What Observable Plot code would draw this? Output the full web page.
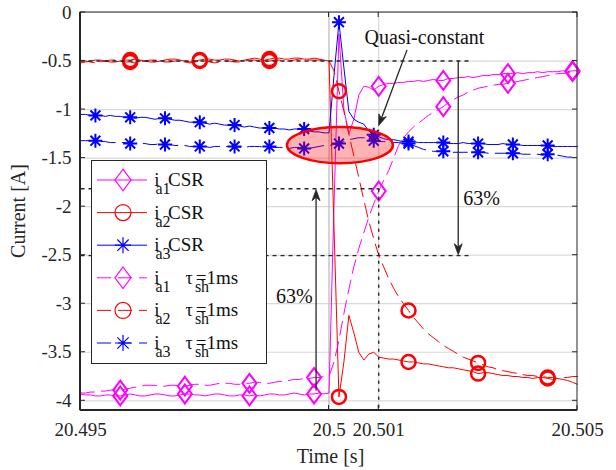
<!DOCTYPE html>
<html><head><meta charset="utf-8">
<script src="https://cdn.jsdelivr.net/npm/d3@7"></script>
<script src="https://cdn.jsdelivr.net/npm/@observablehq/plot@0.6"></script>
<style>body{margin:0;background:#fff}</style>
</head><body><div id="chart"></div>
<script>
// sampling of the recorded currents
const tStart = 20.495, tStep = 0.0001;

const ia1CSR = [
-3.93,-3.94,-3.94,-3.95,-3.95,-3.94,-3.94,-3.95,-3.95,-3.94,
-3.93,-3.94,-3.95,-3.95,-3.94,-3.93,-3.93,-3.94,-3.95,-3.95,
-3.94,-3.93,-3.93,-3.94,-3.94,-3.95,-3.94,-3.93,-3.93,-3.94,
-3.95,-3.95,-3.94,-3.94,-3.95,-3.94,-3.95,-3.94,-3.93,-3.93,
-3.94,-3.94,-3.93,-3.92,-3.93,-3.94,-3.93,-3.93,-3.92,-3.93,
-3.92,-2.00,-0.22,-1.00,-1.25,-1.10,-0.85,-0.76,-0.77,-0.80,
-0.76,-0.74,-0.73,-0.73,-0.72,-0.72,-0.71,-0.71,-0.70,-0.71,
-0.70,-0.69,-0.70,-0.70,-0.68,-0.68,-0.67,-0.67,-0.66,-0.67,
-0.66,-0.65,-0.65,-0.64,-0.64,-0.63,-0.63,-0.63,-0.62,-0.63,
-0.62,-0.62,-0.61,-0.62,-0.61,-0.61,-0.61,-0.60,-0.61,-0.60,-0.60];

const ia2CSR = [
-0.52,-0.51,-0.50,-0.49,-0.49,-0.50,-0.51,-0.51,-0.50,-0.49,
-0.49,-0.48,-0.49,-0.50,-0.51,-0.51,-0.50,-0.49,-0.48,-0.48,
-0.49,-0.50,-0.51,-0.50,-0.49,-0.48,-0.48,-0.49,-0.49,-0.48,
-0.48,-0.49,-0.50,-0.49,-0.48,-0.47,-0.48,-0.49,-0.48,-0.47,
-0.47,-0.48,-0.48,-0.47,-0.47,-0.48,-0.48,-0.47,-0.48,-0.49,
-0.50,-2.20,-3.96,-3.60,-3.12,-3.30,-3.50,-3.58,-3.52,-3.50,
-3.55,-3.56,-3.57,-3.57,-3.58,-3.59,-3.60,-3.60,-3.61,-3.62,
-3.62,-3.63,-3.64,-3.65,-3.66,-3.66,-3.67,-3.68,-3.69,-3.70,
-3.72,-3.71,-3.71,-3.72,-3.73,-3.74,-3.74,-3.75,-3.75,-3.76,
-3.76,-3.77,-3.76,-3.76,-3.77,-3.78,-3.77,-3.78,-3.79,-3.81,-3.83];

const ia3CSR = [
-1.05,-1.05,-1.06,-1.06,-1.06,-1.07,-1.06,-1.07,-1.07,-1.08,
-1.08,-1.09,-1.08,-1.08,-1.09,-1.10,-1.09,-1.09,-1.10,-1.11,
-1.11,-1.12,-1.13,-1.13,-1.13,-1.14,-1.15,-1.14,-1.15,-1.16,
-1.16,-1.16,-1.17,-1.18,-1.17,-1.18,-1.19,-1.19,-1.19,-1.19,
-1.20,-1.20,-1.21,-1.20,-1.20,-1.20,-1.22,-1.23,-1.23,-1.24,
-1.24,-0.65,-0.10,-0.57,-1.02,-1.10,-1.13,-1.15,-1.22,-1.26,
-1.28,-1.30,-1.31,-1.31,-1.32,-1.33,-1.33,-1.33,-1.34,-1.34,
-1.34,-1.34,-1.34,-1.34,-1.35,-1.35,-1.35,-1.34,-1.35,-1.35,
-1.35,-1.35,-1.36,-1.36,-1.36,-1.35,-1.36,-1.36,-1.36,-1.37,
-1.37,-1.37,-1.37,-1.37,-1.37,-1.38,-1.38,-1.38,-1.38,-1.38,-1.38];

const ia1Tsh = [
-3.92,-3.92,-3.91,-3.91,-3.90,-3.90,-3.89,-3.89,-3.89,-3.88,
-3.87,-3.86,-3.85,-3.84,-3.84,-3.84,-3.85,-3.85,-3.84,-3.84,
-3.85,-3.85,-3.84,-3.83,-3.83,-3.84,-3.84,-3.83,-3.82,-3.82,
-3.82,-3.83,-3.83,-3.82,-3.82,-3.81,-3.81,-3.82,-3.82,-3.81,
-3.80,-3.80,-3.79,-3.78,-3.78,-3.77,-3.77,-3.76,-3.76,-3.75,
-3.75,-3.60,-3.38,-3.10,-2.85,-2.62,-2.43,-2.27,-2.11,-1.97,
-1.84,-1.73,-1.63,-1.50,-1.37,-1.29,-1.23,-1.18,-1.14,-1.10,
-1.06,-1.03,-1.00,-0.97,-0.93,-0.90,-0.87,-0.85,-0.82,-0.80,
-0.78,-0.77,-0.76,-0.75,-0.74,-0.74,-0.73,-0.72,-0.71,-0.70,
-0.69,-0.68,-0.67,-0.66,-0.65,-0.64,-0.63,-0.63,-0.62,-0.61,-0.61];

const ia2Tsh = [
-0.49,-0.50,-0.51,-0.52,-0.51,-0.50,-0.49,-0.49,-0.50,-0.51,
-0.51,-0.52,-0.51,-0.50,-0.49,-0.49,-0.50,-0.51,-0.51,-0.50,
-0.50,-0.51,-0.52,-0.51,-0.50,-0.50,-0.51,-0.52,-0.51,-0.50,
-0.50,-0.51,-0.51,-0.50,-0.49,-0.49,-0.50,-0.51,-0.50,-0.49,
-0.49,-0.50,-0.50,-0.49,-0.48,-0.48,-0.49,-0.49,-0.49,-0.50,
-0.50,-0.60,-0.81,-1.02,-1.25,-1.48,-1.70,-1.93,-2.15,-2.33,
-2.50,-2.62,-2.74,-2.84,-2.93,-3.00,-3.07,-3.14,-3.20,-3.26,
-3.31,-3.35,-3.39,-3.43,-3.46,-3.49,-3.52,-3.55,-3.57,-3.59,
-3.61,-3.63,-3.65,-3.66,-3.68,-3.69,-3.70,-3.71,-3.72,-3.73,
-3.74,-3.74,-3.75,-3.75,-3.76,-3.76,-3.77,-3.76,-3.76,-3.75,-3.75];

const ia3Tsh = [
-1.32,-1.32,-1.32,-1.32,-1.33,-1.33,-1.34,-1.34,-1.34,-1.34,
-1.35,-1.35,-1.35,-1.35,-1.36,-1.36,-1.35,-1.36,-1.36,-1.37,
-1.37,-1.37,-1.38,-1.38,-1.38,-1.38,-1.39,-1.38,-1.38,-1.38,
-1.38,-1.38,-1.39,-1.39,-1.38,-1.38,-1.38,-1.39,-1.38,-1.39,
-1.39,-1.39,-1.40,-1.39,-1.39,-1.40,-1.40,-1.39,-1.38,-1.37,
-1.37,-1.36,-1.35,-1.33,-1.31,-1.30,-1.29,-1.29,-1.30,-1.32,
-1.33,-1.33,-1.33,-1.34,-1.34,-1.35,-1.35,-1.37,-1.39,-1.41,
-1.42,-1.43,-1.43,-1.43,-1.44,-1.44,-1.44,-1.44,-1.44,-1.44,
-1.44,-1.44,-1.45,-1.45,-1.45,-1.45,-1.45,-1.45,-1.45,-1.46,
-1.46,-1.46,-1.46,-1.47,-1.46,-1.47,-1.47,-1.48,-1.49,-1.49,-1.50];

// marker sample times
const diamondTimes = [20.4958, 20.4971, 20.4984, 20.4997, 20.501, 20.5023, 20.5036, 20.5049];
const circleTimes  = [20.496, 20.4974, 20.4988, 20.5002, 20.5016, 20.503, 20.5044];
const starTimes    = [20.4953, 20.496, 20.4967, 20.4974, 20.4981, 20.4988, 20.4995, 20.5002, 20.5009, 20.5016, 20.5023, 20.503, 20.5037, 20.5044];

// axes
const xTicks = [20.495, 20.5, 20.501, 20.505];
const yTicks = [0, -0.5, -1, -1.5, -2, -2.5, -3, -3.5, -4];

// annotations (data coordinates)
const dottedH = [
  {x1: 20.495, x2: 20.50281, y: -0.5},
  {x1: 20.495, x2: 20.50281, y: -2.505},
  {x1: 20.495, x2: 20.501, y: -1.815}
];
const dottedV = [{x: 20.501, y1: -1.815, y2: -4.1}];
const arrows = [
  {x1: 20.50158, y1: -0.39, x2: 20.50101, y2: -1.17},
  {x1: 20.50261, y1: -0.5, x2: 20.50261, y2: -2.5},
  {x1: 20.49975, y1: -3.9, x2: 20.49975, y2: -1.83}
];
const notes = [
  {x: 20.50192, y: -0.255, text: "Quasi-constant"},
  {x: 20.50307, y: -1.92, text: "63%"},
  {x: 20.49930, y: -2.93, text: "63%"}
];
const ellipse = {cx: 20.50023, cy: -1.371, rx: 0.001066, ry: 0.186};

const legendRows = [
  {sub: "a1", tag: "CSR", color: "#ff00ff", sym: "diamond", dashed: false},
  {sub: "a2", tag: "CSR", color: "#ff0000", sym: "circle", dashed: false},
  {sub: "a3", tag: "CSR", color: "#0000ff", sym: "star", dashed: false},
  {sub: "a1", tag: "tau", color: "#ff00ff", sym: "diamond", dashed: true},
  {sub: "a2", tag: "tau", color: "#ff0000", sym: "circle", dashed: true},
  {sub: "a3", tag: "tau", color: "#0000ff", sym: "star", dashed: true}
];

// MATLAB-like marker shapes
const matDiamond = {draw(ctx, size) { const r = Math.sqrt(size / Math.PI);
  ctx.moveTo(0, -r * 1.35); ctx.lineTo(r, 0); ctx.lineTo(0, r * 1.35); ctx.lineTo(-r, 0); ctx.closePath(); }};
const matStar = {draw(ctx, size) { const r = Math.sqrt(size / Math.PI), d = r * 0.7071;
  ctx.moveTo(-r, 0); ctx.lineTo(r, 0); ctx.moveTo(0, -r); ctx.lineTo(0, r);
  ctx.moveTo(-d, -d); ctx.lineTo(d, d); ctx.moveTo(-d, d); ctx.lineTo(d, -d); }};
const matCircle = d3.symbolCircle;
const symbols = {diamond: matDiamond, circle: matCircle, star: matStar};

const idx = t => Math.round((t - tStart) / tStep);
const toRows = vals => vals.map((v, i) => ({t: tStart + i * tStep, v}));
const markRows = (vals, times) => times.map(t => ({t, v: vals[idx(t)]}));

const series = [
  {vals: ia1CSR, color: "#ff00ff", sym: "diamond", times: diamondTimes, dashed: false},
  {vals: ia2CSR, color: "#ff0000", sym: "circle", times: circleTimes, dashed: false},
  {vals: ia3CSR, color: "#0000ff", sym: "star", times: starTimes, dashed: false},
  {vals: ia1Tsh, color: "#ff00ff", sym: "diamond", times: diamondTimes, dashed: true},
  {vals: ia2Tsh, color: "#ff0000", sym: "circle", times: circleTimes, dashed: true},
  {vals: ia3Tsh, color: "#0000ff", sym: "star", times: starTimes, dashed: true}
];
const DASH = "14,7";

const marks = [
  Plot.gridY(yTicks, {stroke: "#d9d9d9", strokeOpacity: 1, strokeWidth: 1.2}),
  Plot.gridX([20.501], {stroke: "#d9d9d9", strokeOpacity: 1, strokeWidth: 1.2}),
  Plot.gridX([20.5], {stroke: "#b8b8b8", strokeOpacity: 1, strokeWidth: 1.2})
];
for (const s of series) {
  marks.push(Plot.line(toRows(s.vals), {x: "t", y: "v", stroke: s.color, strokeWidth: 1,
    strokeDasharray: s.dashed ? DASH : null}));
  marks.push(Plot.dot(markRows(s.vals, s.times), {x: "t", y: "v", stroke: s.color, fill: "none",
    symbol: symbols[s.sym], r: 7, strokeWidth: s.sym === "circle" ? 2.5 : 2}));
}
marks.push(
  Plot.link(dottedH, {x1: "x1", x2: "x2", y1: "y", y2: "y", stroke: "#262626", strokeWidth: 1.4, strokeDasharray: "4,4"}),
  Plot.link(dottedV, {x1: "x", x2: "x", y1: "y1", y2: "y2", stroke: "#262626", strokeWidth: 1.4, strokeDasharray: "3,5"}),
  Plot.text(notes, {x: "x", y: "y", text: "text", textAnchor: "middle", fontSize: 20, fill: "#111"}),
  Plot.axisX(xTicks, {tickSize: 0, tickPadding: 12, tickFormat: d => String(d), fontSize: 19, label: null}),
  Plot.axisY(yTicks, {tickSize: 0, tickPadding: 9, tickFormat: d => String(d), fontSize: 19, label: null})
);

const chart = Plot.plot({
  width: 616, height: 470,
  marginLeft: 80, marginRight: 39, marginTop: 12, marginBottom: 60,
  x: {domain: [20.495, 20.505]},
  y: {domain: [-4.1, 0]},
  style: {fontSize: "19px", background: "white", color: "#262626", overflow: "visible"},
  marks
});
document.getElementById("chart").append(chart);

const X = chart.scale("x").apply, Y = chart.scale("y").apply;
const svg = d3.select(chart);
const L = X(20.495), R = X(20.505), T = Y(0), B = Y(-4.1);
const overlay = svg.append("g");

// ellipse highlight
overlay.append("ellipse").attr("cx", X(ellipse.cx)).attr("cy", Y(ellipse.cy))
  .attr("rx", X(ellipse.cx + ellipse.rx) - X(ellipse.cx)).attr("ry", Y(ellipse.cy - ellipse.ry) - Y(ellipse.cy))
  .attr("fill", "#ff0000").attr("fill-opacity", 0.3).attr("stroke", "#ff0000").attr("stroke-width", 2.5);

// arrows
for (const a of arrows) {
  const x1 = X(a.x1), y1 = Y(a.y1), x2 = X(a.x2), y2 = Y(a.y2);
  const ang = Math.atan2(y2 - y1, x2 - x1), ux = Math.cos(ang), uy = Math.sin(ang);
  const hl = 11, hw = 4;
  overlay.append("line").attr("x1", x1).attr("y1", y1).attr("x2", x2 - ux * 6).attr("y2", y2 - uy * 6)
    .attr("stroke", "#262626").attr("stroke-width", 1.3);
  const bx = x2 - ux * hl, by = y2 - uy * hl, nx = x2 - ux * hl * 0.7, ny = y2 - uy * hl * 0.7;
  overlay.append("path").attr("d", `M${x2},${y2}L${bx - uy * hw},${by + ux * hw}L${nx},${ny}L${bx + uy * hw},${by - ux * hw}Z`)
    .attr("fill", "#262626").attr("stroke", "#262626").attr("stroke-width", 0.8);
}

// frame and inward ticks
overlay.append("rect").attr("x", L).attr("y", T).attr("width", R - L).attr("height", B - T)
  .attr("fill", "none").attr("stroke", "#262626").attr("stroke-width", 1);
overlay.append("line").attr("x1", L).attr("x2", L).attr("y1", T).attr("y2", B).attr("stroke", "#262626").attr("stroke-width", 2);
overlay.append("line").attr("x1", L).attr("x2", R).attr("y1", B).attr("y2", B).attr("stroke", "#262626").attr("stroke-width", 2);
for (const v of yTicks) {
  overlay.append("line").attr("x1", L).attr("x2", L + 5).attr("y1", Y(v)).attr("y2", Y(v)).attr("stroke", "#262626");
  overlay.append("line").attr("x1", R).attr("x2", R - 5).attr("y1", Y(v)).attr("y2", Y(v)).attr("stroke", "#262626");
}
for (const v of xTicks) {
  overlay.append("line").attr("x1", X(v)).attr("x2", X(v)).attr("y1", B).attr("y2", B - 5).attr("stroke", "#262626");
  overlay.append("line").attr("x1", X(v)).attr("x2", X(v)).attr("y1", T).attr("y2", T + 5).attr("stroke", "#262626");
}

// axis titles
overlay.append("text").attr("x", (L + R) / 2 + 2).attr("y", 458).attr("text-anchor", "middle").attr("dominant-baseline", "middle")
  .attr("font-size", 20).attr("fill", "#262626").text("Time [s]");
overlay.append("text").attr("transform", `translate(20,${(T + B) / 2}) rotate(-90)`).attr("text-anchor", "middle")
  .attr("dominant-baseline", "middle").attr("font-size", 20).attr("fill", "#262626").text("Current [A]");

// legend
const lg = overlay.append("g").attr("fill", "#111");
lg.append("rect").attr("x", 91.5).attr("y", 160.5).attr("width", 175).attr("height", 203)
  .attr("fill", "white").attr("stroke", "#262626").attr("stroke-width", 1);
const word = (x, y, size, s) => lg.append("text").attr("x", x).attr("y", y).attr("font-size", size).text(s);
legendRows.forEach((r, k) => {
  const yy = 180 + k * 32.6;
  lg.append("line").attr("x1", 97).attr("x2", 147).attr("y1", yy).attr("y2", yy)
    .attr("stroke", r.color).attr("stroke-width", 1).attr("stroke-dasharray", r.dashed ? "14,7" : null);
  lg.append("path").attr("d", d3.symbol(symbols[r.sym], Math.PI * 64)())
    .attr("transform", `translate(123,${yy})`).attr("fill", "none").attr("stroke", r.color).attr("stroke-width", 1.2);
  word(157, yy + 6, 19, "i");
  word(163, yy + 14, 16, r.sub);
  if (r.tag === "CSR") {
    word(186, yy + 6, 19, "CSR");
  } else {
    word(189, yy + 6, 18, "τ");
    word(202, yy + 14, 16, "sh");
    word(217, yy + 6, 19, "=1ms");
  }
});

// serif face (Times-like) on every text, set inline
chart.style.fontFamily = "'Liberation Serif', serif";
svg.selectAll("text, tspan").style("font-family", "'Liberation Serif', serif", "important");
</script>
</body></html>
